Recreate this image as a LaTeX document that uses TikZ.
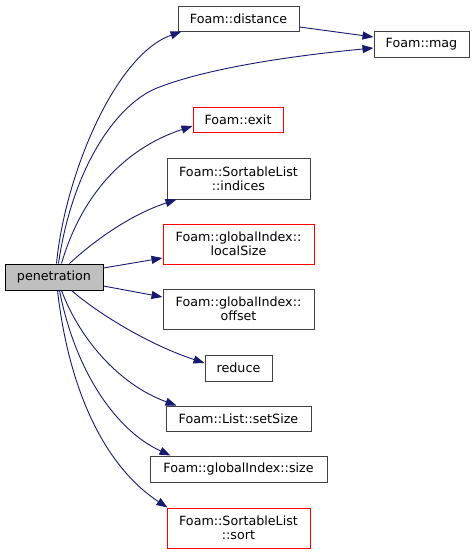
\documentclass[tikz,border=0pt]{standalone}
\usepackage{fontspec}
\setmainfont{DejaVu Sans}
\usetikzlibrary{arrows.meta,calc}
\definecolor{edgeblue}{HTML}{191970}
\definecolor{boxgray}{HTML}{404040}
\definecolor{penfill}{HTML}{BFBFBF}
\begin{document}
\begin{tikzpicture}[x=1pt,y=-1pt,
  fn/.style={draw=boxgray,line width=1pt,fill=white,inner sep=0pt,align=center,
    font=\fontsize{12.7}{14}\selectfont},
  fnred/.style={fn,draw=red},
  call/.style={draw=edgeblue,line width=0.9pt,-{Triangle[length=11pt,width=8pt]},fill=none},
  ]
\useasboundingbox (0,0) rectangle (475,554);
\node[fn,minimum width=121pt,minimum height=25pt] (dist) at (238.5,18.5) {Foam::distance};
\node[fn,minimum width=95pt,minimum height=26pt] (mag) at (421.5,44) {Foam::mag};
\node[fnred,minimum width=90pt,minimum height=25pt] (exit) at (238,119.5) {Foam::exit};
\node[fn,minimum width=143pt,minimum height=41pt] (ind) at (238.5,178.5) {Foam::SortableList\\::indices};
\node[fnred,minimum width=151pt,minimum height=40pt] (lsz) at (238.5,244) {Foam::globalIndex::\\localSize};
\node[fn,fill=penfill,draw=black,minimum width=98pt,minimum height=26pt] (pen) at (54,277) {penetration};
\node[fn,minimum width=151pt,minimum height=40pt] (off) at (238.5,309) {Foam::globalIndex::\\offset};
\node[fn,minimum width=67pt,minimum height=26pt] (red) at (238.5,368) {reduce};
\node[fn,minimum width=145pt,minimum height=25pt] (ssz) at (238.5,418.5) {Foam::List::setSize};
\node[fn,minimum width=177pt,minimum height=26pt] (gsz) at (238.5,469) {Foam::globalIndex::size};
\node[fnred,minimum width=143pt,minimum height=40pt] (sort) at (238.5,528) {Foam::SortableList\\::sort};

\draw[call] ($(pen.north west)+(52,0)$) .. controls (65,175) and (115,55) .. ($(dist.south west)+(4,0)$);
\draw[call] ($(pen.north west)+(54,0)$) .. controls (72,170) and (115,105) .. (157,88)
   .. controls (210,67) and (300,55) .. ($(mag.west)+(0,4)$);
\draw[call] ($(dist.east)+(0,8.5)$) -- ($(mag.west)+(0,-7)$);
\draw[call] ($(pen.north west)+(57,0)$) .. controls (80,200) and (120,150) .. ($(exit.west)+(0,6.5)$);
\draw[call] ($(pen.north west)+(65,0)$) .. controls (95,240) and (130,215) .. ($(ind.south west)+(10,0)$);
\draw[call] ($(pen.east)+(0,-9)$) -- ($(lsz.west)+(0,14)$);
\draw[call] ($(pen.east)+(0,9)$) -- ($(off.west)+(0,-12)$);
\draw[call] ($(pen.south west)+(67,0)$) .. controls (100,315) and (150,345) .. ($(red.west)+(0,-5)$);
\draw[call] ($(pen.south west)+(57,0)$) .. controls (80,340) and (120,385) .. ($(ssz.north west)+(11,0)$);
\draw[call] ($(pen.south west)+(55,0)$) .. controls (75,370) and (115,430) .. ($(gsz.north west)+(21,0)$);
\draw[call] ($(pen.south west)+(53,0)$) .. controls (70,400) and (110,470) .. ($(sort.north west)+(1,0)$);
\end{tikzpicture}
\end{document}
